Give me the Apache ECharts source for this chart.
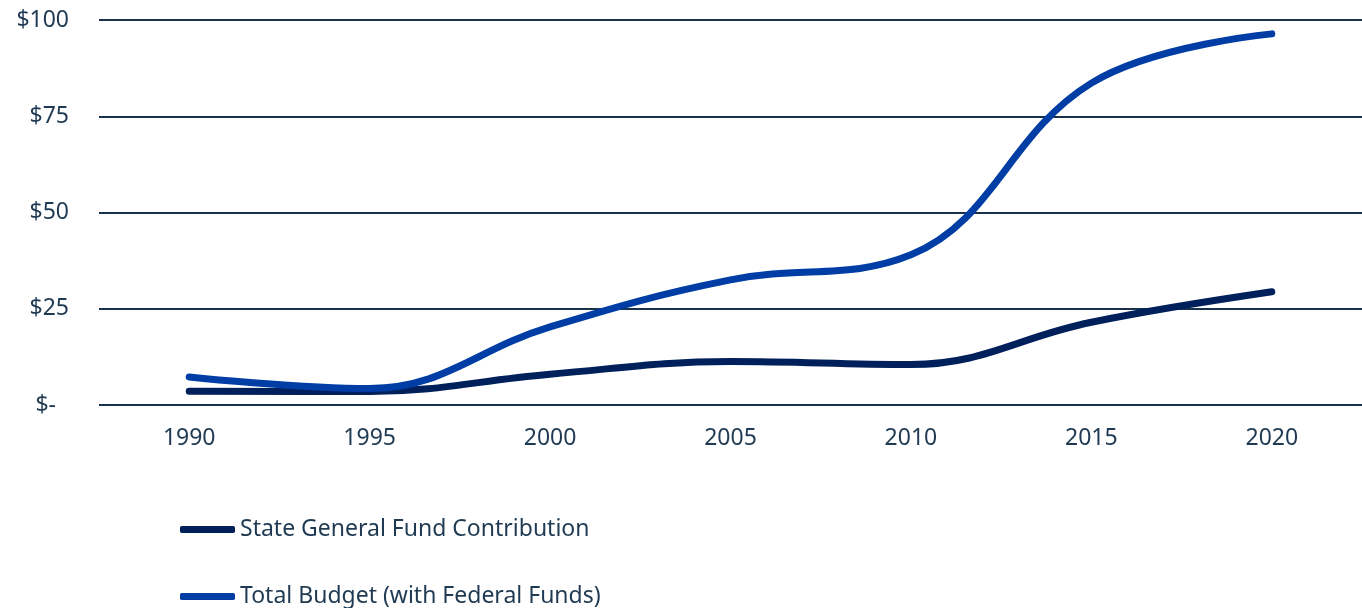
<!DOCTYPE html>
<html><head><meta charset="utf-8">
<script src="https://cdn.jsdelivr.net/npm/echarts@6/dist/echarts.min.js"></script>
<style>html,body{margin:0;padding:0;background:#fff}#c{width:1362px;height:608px}</style>
</head><body><div id="c"></div>
<script>
const years = ['1990','1995','2000','2005','2010','2015','2020'];
const stateFund = [3.6, 3.5, 8.0, 11.3, 10.5, 21.5, 29.4];
const totalBudget = [7.3, 4.3, 20.3, 32.5, 39.0, 83.6, 96.4];
const yTicks = [0, 25, 50, 75, 100];

const txt = '#1f3a52';
const font = 'Noto Sans';
const chart = echarts.init(document.getElementById('c'));
chart.setOption({
  animation: false,
  grid: { left: 99, right: 0, top: 20, bottom: 203 },
  legend: {
    orient: 'vertical', left: 180, top: 518, itemGap: 44, padding: 0, height: 90,
    itemWidth: 55, itemHeight: 7,
    textStyle: { fontFamily: font, fontSize: 23, color: txt },
    data: [
      { name: 'State General Fund Contribution', icon: 'roundRect' },
      { name: 'Total Budget (with Federal Funds)', icon: 'roundRect' }
    ]
  },
  xAxis: {
    type: 'category', data: years, boundaryGap: true,
    axisLine: { show: false }, axisTick: { show: false },
    axisLabel: { fontFamily: font, fontSize: 23, color: txt, margin: 22 }
  },
  yAxis: {
    type: 'value', min: 0, max: 100, interval: 25,
    axisLine: { show: false }, axisTick: { show: false },
    splitLine: { lineStyle: { color: '#17324a', width: 2 } },
    axisLabel: {
      fontFamily: font, fontSize: 23, color: txt, margin: 30,
      formatter: v => yTicks.includes(v) ? (v === 0 ? '{z|$-}' : '$' + v) : '',
      rich: { z: { fontFamily: font, fontSize: 23, color: txt, padding: [0, 13, 0, 0] } }
    }
  },
  series: [
    { name: 'State General Fund Contribution', type: 'line', data: stateFund, smooth: 0.4,
      showSymbol: false, symbol: 'none', itemStyle: { color: '#00205b' },
      lineStyle: { color: '#00205b', width: 7, cap: 'round' } },
    { name: 'Total Budget (with Federal Funds)', type: 'line', data: totalBudget, smooth: 0.4,
      showSymbol: false, symbol: 'none', itemStyle: { color: '#003da5' },
      lineStyle: { color: '#003da5', width: 7, cap: 'round' } }
  ]
});
</script></body></html>
